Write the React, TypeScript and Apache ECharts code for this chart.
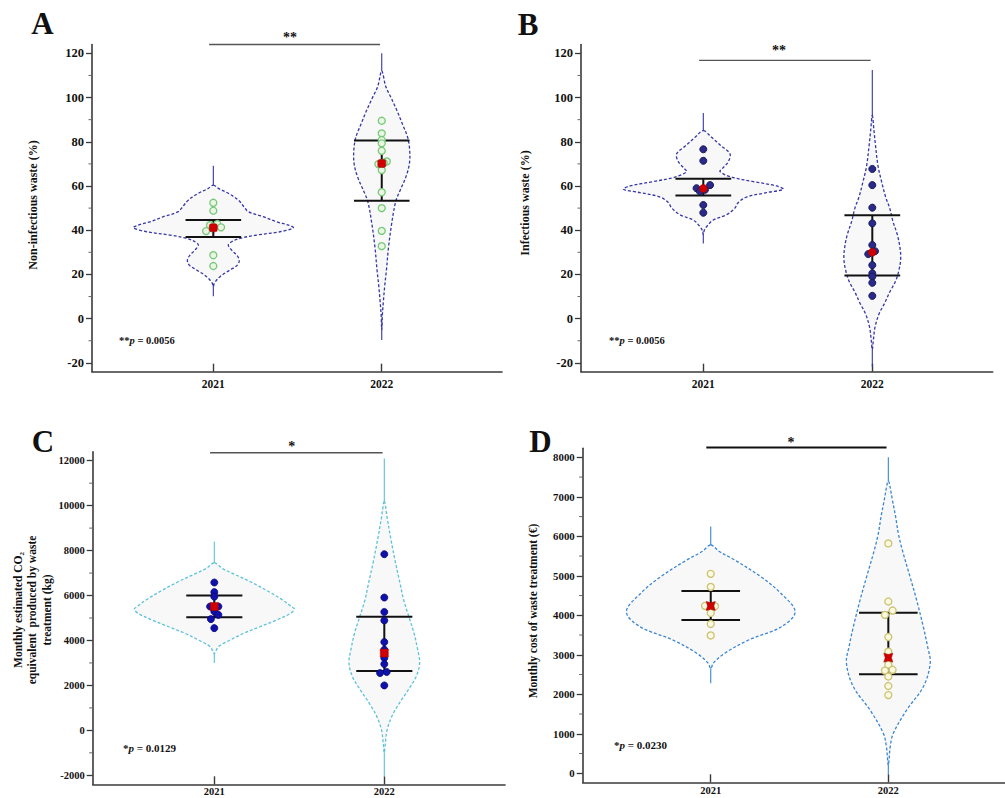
import React, { useEffect, useRef } from 'react';
import * as echarts from 'echarts';

const FONT = "'Liberation Serif', 'Times New Roman', serif";

const yearLabels = ['2021', '2022'];
const yearPos = [1, 2];

// ---------- Panel A: Non-infectious waste (%) ----------
const aYTicks = [-20, 0, 20, 40, 60, 80, 100, 120];
const aYMinor = [-10, 10, 30, 50, 70, 90, 110];
const aPts2021 = [52.4, 48.8, 42.8, 42.3, 41.3, 41.3, 39.6, 28.7, 23.8];
const aJit2021 = [0, 0, 0.024, -0.02, 0.046, 0, -0.043, 0, 0];
const aPts2022 = [89.5, 83.8, 80.8, 79.3, 75.9, 71.1, 70.5, 69.9, 67.2, 57.2, 50.0, 39.7, 32.8];
const aJit2022 = [0, 0, 0, 0, 0, 0.03, 0.012, -0.02, 0, 0, 0, 0, 0];
const aMean = [41.1, 70.2];
const aUpper = [44.6, 80.6];
const aLower = [36.9, 53.3];
const aV2021Y = [60.4, 58.9, 56.7, 53.6, 50.6, 48.4, 46.1, 43.8, 42.3, 41.1, 39.3, 37.8, 36.3, 34.8, 33.3, 31.0, 28.7, 26.5, 24.2, 22.0, 19.0, 16.0, 14.5];
const aV2021W = [0, 0.03, 0.089, 0.149, 0.182, 0.208, 0.297, 0.376, 0.446, 0.475, 0.396, 0.257, 0.158, 0.109, 0.089, 0.109, 0.139, 0.154, 0.143, 0.099, 0.04, 0.006, 0];
const aV2021Tail = [69.2, 10.1];
const aV2022Y = [112, 105, 100, 94, 88, 82, 76, 70, 64, 58, 53, 43, 32, 22, 15, 8, 2, -5];
const aV2022W = [0, 0.024, 0.055, 0.091, 0.123, 0.154, 0.166, 0.164, 0.143, 0.109, 0.083, 0.059, 0.04, 0.028, 0.018, 0.01, 0.004, 0];
const aV2022Tail = [120, -9.7];
const aBracket = 124;

// ---------- Panel B: Infectious waste (%) ----------
const bYTicks = [-20, 0, 20, 40, 60, 80, 100, 120];
const bYMinor = [-10, 10, 30, 50, 70, 90, 110];
const bPts2021 = [76.6, 71.4, 60.4, 59.0, 58.3, 57.5, 51.4, 47.9];
const bJit2021 = [0, 0, 0.04, -0.04, 0.01, -0.02, 0, 0];
const bPts2022 = [67.7, 60.4, 50.2, 43.1, 33.3, 30.5, 29.2, 24.2, 20.5, 19.0, 16.2, 10.3];
const bJit2022 = [0, 0, 0, 0, 0, 0.016, -0.024, 0, 0, 0, 0, 0];
const bMean = [58.9, 30.0];
const bUpper = [63.3, 46.8];
const bLower = [55.7, 19.5];
const bV2021Y = [85, 82, 78, 74.5, 71, 68, 66.5, 64, 62, 60, 58.5, 57, 55, 52.5, 50, 47, 44.6, 42, 40, 38];
const bV2021W = [0, 0.049, 0.108, 0.158, 0.148, 0.114, 0.099, 0.168, 0.296, 0.434, 0.473, 0.375, 0.256, 0.207, 0.187, 0.138, 0.059, 0.024, 0.006, 0];
const bV2021Tail = [93, 34];
const bV2022Y = [92, 85, 79, 69, 62, 55, 50, 44, 38, 32, 27, 22, 17, 12, 7, 2, -4, -10, -14];
const bV2022W = [0, 0.01, 0.018, 0.034, 0.055, 0.079, 0.103, 0.122, 0.148, 0.164, 0.168, 0.158, 0.138, 0.103, 0.073, 0.039, 0.016, 0.006, 0];
const bV2022Tail = [112.5, -21.8];
const bBracket = 116.8;

// ---------- Panel C: CO2 equivalent (kg) ----------
const cYTicks = [-2000, 0, 2000, 4000, 6000, 8000, 10000, 12000];
const cYMinor = [-1000, 1000, 3000, 5000, 7000, 9000, 11000];
const cPts2021 = [6580, 6150, 5950, 5510, 5510, 5290, 5140, 4950, 4550];
const cJit2021 = [0, 0, 0, -0.025, 0.024, 0, 0.024, -0.02, 0];
const cPts2022 = [7840, 5910, 5270, 4890, 3930, 3590, 3220, 2950, 2600, 2550, 2000];
const cJit2022 = [0, 0, 0, 0, 0, 0, 0, 0, 0.014, -0.025, 0];
const cMean = [5510, 3440];
const cUpper = [6000, 5052];
const cLower = [5037, 2637];
const cV2021Y = [7450, 7200, 6950, 6600, 6200, 5800, 5500, 5400, 5200, 4900, 4600, 4300, 4000, 3750, 3500, 3400];
const cV2021W = [0, 0.049, 0.118, 0.216, 0.314, 0.402, 0.455, 0.471, 0.447, 0.363, 0.265, 0.167, 0.088, 0.029, 0.006, 0];
const cV2021Tail = [8400, 3000];
const cV2022Y = [10200, 9500, 8500, 7500, 6500, 5800, 5000, 4300, 3600, 3000, 2400, 1800, 1200, 600, 0, -600, -1000];
const cV2022W = [0, 0.016, 0.039, 0.065, 0.094, 0.114, 0.147, 0.176, 0.196, 0.208, 0.188, 0.141, 0.088, 0.043, 0.016, 0.006, 0];
const cV2022Tail = [12100, -2050];
const cBracket = 12350;

// ---------- Panel D: Monthly cost (€) ----------
const dYTicks = [0, 1000, 2000, 3000, 4000, 5000, 6000, 7000, 8000];
const dYMinor = [500, 1500, 2500, 3500, 4500, 5500, 6500, 7500];
const dPts2021 = [5050, 4720, 4240, 4230, 4060, 3780, 3490];
const dJit2021 = [0, 0, -0.032, 0.024, 0, 0, 0];
const dPts2022 = [5820, 4350, 4120, 4010, 3450, 3080, 2750, 2620, 2600, 2450, 2210, 1980];
const dJit2022 = [0, 0, 0.024, -0.019, 0, 0, 0, 0.024, -0.019, 0, 0, 0];
const dMean = [4236, 2928];
const dUpper = [4616, 4067];
const dLower = [3882, 2506];
const dV2021Y = [5780, 5620, 5400, 4980, 4560, 4090, 3710, 3380, 3040, 2790, 2650];
const dV2021W = [0, 0.047, 0.135, 0.281, 0.394, 0.475, 0.398, 0.216, 0.079, 0.015, 0];
const dV2021Tail = [6250, 2280];
const dV2022Y = [7400, 7340, 6920, 6500, 6080, 5650, 4980, 4390, 3710, 3210, 2790, 2190, 1600, 1010, 680, 340, 200];
const dV2022W = [0, 0.006, 0.023, 0.041, 0.056, 0.079, 0.122, 0.159, 0.197, 0.221, 0.236, 0.197, 0.103, 0.028, 0.011, 0.004, 0];
const dV2022Tail = [8000, -40];
const dBracket = 8250;

const capHalf = 0.165;
const bracketFrom = 0.975;
const bracketTo = 1.99;

type Violin = { ys: number[]; ws: number[]; tail: number[] };

const panels = [
  {
    grid: { left: 92, top: 44.5, width: 410, height: 327.2 },
    xMin: 0.2797, xMax: 2.714, yMin: -24, yMax: 124,
    ticks: aYTicks, minor: aYMinor,
    pts: [aPts2021, aPts2022], jit: [aJit2021, aJit2022],
    mean: aMean, upper: aUpper, lower: aLower,
    violins: [{ ys: aV2021Y, ws: aV2021W, tail: aV2021Tail }, { ys: aV2022Y, ws: aV2022W, tail: aV2022Tail }] as Violin[],
    bracket: aBracket, violinColor: '#3636a8', bracketColor: '#555', bracketWidth: 1.4,
    pt: { color: '#eaf6e4', borderColor: '#78c878', borderWidth: 1.3 }, ptSize: 7,
    meanSymbol: 'roundRect', meanSize: 8,
    yLabelSize: 12.5, xLabelSize: 11.5, xLabelMargin: 6,
  },
  {
    grid: { left: 581, top: 44.5, width: 411.7, height: 327.2 },
    xMin: 0.2763, xMax: 2.7124, yMin: -24, yMax: 124,
    ticks: bYTicks, minor: bYMinor,
    pts: [bPts2021, bPts2022], jit: [bJit2021, bJit2022],
    mean: bMean, upper: bUpper, lower: bLower,
    violins: [{ ys: bV2021Y, ws: bV2021W, tail: bV2021Tail }, { ys: bV2022Y, ws: bV2022W, tail: bV2022Tail }] as Violin[],
    bracket: bBracket, violinColor: '#3636a8', bracketColor: '#555', bracketWidth: 1.4,
    pt: { color: '#2a2a88', borderColor: '#1a1a60', borderWidth: 1 }, ptSize: 7,
    meanSymbol: 'circle', meanSize: 8,
    yLabelSize: 12.5, xLabelSize: 11.5, xLabelMargin: 6,
  },
  {
    grid: { left: 92.7, top: 451.7, width: 412.3, height: 332.6 },
    xMin: 0.2847, xMax: 2.71, yMin: -2400, yMax: 12400,
    ticks: cYTicks, minor: cYMinor,
    pts: [cPts2021, cPts2022], jit: [cJit2021, cJit2022],
    mean: cMean, upper: cUpper, lower: cLower,
    violins: [{ ys: cV2021Y, ws: cV2021W, tail: cV2021Tail }, { ys: cV2022Y, ws: cV2022W, tail: cV2022Tail }] as Violin[],
    bracket: cBracket, violinColor: '#5cc2da', bracketColor: '#555', bracketWidth: 1.4,
    pt: { color: '#1010aa', borderColor: '#08087a', borderWidth: 0.8 }, ptSize: 7,
    meanSymbol: 'rect', meanSize: 8,
    yLabelSize: 10.5, xLabelSize: 10.5, xLabelMargin: 2,
  },
  {
    grid: { left: 582.7, top: 448.3, width: 422.3, height: 334 },
    xMin: 0.279, xMax: 2.657, yMin: -228.6, yMax: 8228.6,
    ticks: dYTicks, minor: dYMinor,
    pts: [dPts2021, dPts2022], jit: [dJit2021, dJit2022],
    mean: dMean, upper: dUpper, lower: dLower,
    violins: [{ ys: dV2021Y, ws: dV2021W, tail: dV2021Tail }, { ys: dV2022Y, ws: dV2022W, tail: dV2022Tail }] as Violin[],
    bracket: dBracket, violinColor: '#3a86d2', bracketColor: '#111', bracketWidth: 2,
    pt: { color: '#fbf9e0', borderColor: '#cbc272', borderWidth: 1.3 }, ptSize: 7,
    meanSymbol: 'path://M0 0L10 3L20 0L17 10L20 20L10 17L0 20L3 10Z', meanSize: 9,
    yLabelSize: 10.8, xLabelSize: 10.5, xLabelMargin: 3,
  },
];

function buildOption() {
  const grids: any[] = [];
  const xAxes: any[] = [];
  const yAxes: any[] = [];
  const series: any[] = [];

  panels.forEach((p, g) => {
    grids.push({ ...p.grid, containLabel: false, outerBoundsMode: 'none' });
    xAxes.push({
      type: 'value', gridIndex: g, min: p.xMin, max: p.xMax, position: 'bottom',
      axisLine: { show: true, onZero: false, lineStyle: { color: '#3a3a3a', width: 1.6 } },
      axisTick: { show: true, inside: true, length: 8, customValues: yearPos, lineStyle: { color: '#3a3a3a', width: 1.4 } },
      axisLabel: {
        show: true, customValues: yearPos, margin: p.xLabelMargin,
        formatter: (v: number) => yearLabels[Math.round(v) - 1] ?? '',
        fontFamily: FONT, fontWeight: 'bold', fontSize: p.xLabelSize, color: '#111',
      },
      splitLine: { show: false },
    });
    yAxes.push({
      type: 'value', gridIndex: g, min: p.yMin, max: p.yMax, position: 'left',
      axisLine: { show: true, onZero: false, lineStyle: { color: '#3a3a3a', width: 1.6 } },
      axisTick: { show: true, length: 6, customValues: p.ticks, lineStyle: { color: '#3a3a3a', width: 1.3 } },
      axisLabel: {
        show: true, customValues: p.ticks, margin: 8, formatter: (v: number) => String(v),
        fontFamily: FONT, fontWeight: 'bold', fontSize: p.yLabelSize, color: '#111',
      },
      splitLine: { show: false },
    });

    const yIdx = g;

    // minor y ticks (drawn through the y scale)
    series.push({
      type: 'custom', xAxisIndex: g, yAxisIndex: yIdx, clip: false, silent: true, z: 5,
      data: p.minor.map((v) => [p.xMin, v]),
      renderItem: (params: any, api: any) => {
        const pt = api.coord([p.xMin, p.minor[params.dataIndex]]);
        return { type: 'line', shape: { x1: pt[0] - 3.5, y1: pt[1], x2: pt[0], y2: pt[1] }, style: { stroke: '#666', lineWidth: 1 } };
      },
    });

    // violins
    series.push({
      type: 'custom', xAxisIndex: g, yAxisIndex: yIdx, clip: false, silent: true, z: 1,
      data: p.violins.map((v, i) => [yearPos[i], v.tail[0]]),
      renderItem: (params: any, api: any) => {
        const i = params.dataIndex;
        const v = p.violins[i];
        const c = yearPos[i];
        const n = v.ys.length;
        const pts: number[][] = [];
        for (let k = 0; k < n; k++) pts.push(api.coord([c + v.ws[k], v.ys[k]]));
        for (let k = n - 2; k >= 1; k--) pts.push(api.coord([c - v.ws[k], v.ys[k]]));
        const t1 = api.coord([c, v.tail[0]]);
        const t2 = api.coord([c, v.tail[1]]);
        return {
          type: 'group',
          children: [
            { type: 'line', shape: { x1: t1[0], y1: t1[1], x2: t2[0], y2: t2[1] }, style: { stroke: p.violinColor, lineWidth: 1.1 } },
            { type: 'polygon', shape: { points: pts, smooth: 0.35 }, style: { fill: '#f8f8f8', stroke: p.violinColor, lineWidth: 1.3, lineDash: [3, 2] } },
          ],
        };
      },
    });

    // error bars
    series.push({
      type: 'custom', xAxisIndex: g, yAxisIndex: yIdx, clip: false, silent: true, z: 2,
      data: yearPos.map((c, i) => [c, p.upper[i], p.lower[i]]),
      renderItem: (params: any, api: any) => {
        const i = params.dataIndex;
        const c = yearPos[i];
        const up = api.coord([c, p.upper[i]]);
        const lo = api.coord([c, p.lower[i]]);
        const ul = api.coord([c - capHalf, p.upper[i]]);
        const ur = api.coord([c + capHalf, p.upper[i]]);
        const ll = api.coord([c - capHalf, p.lower[i]]);
        const lr = api.coord([c + capHalf, p.lower[i]]);
        const st = { stroke: '#111', lineWidth: 2 };
        return {
          type: 'group',
          children: [
            { type: 'line', shape: { x1: up[0], y1: up[1], x2: lo[0], y2: lo[1] }, style: st },
            { type: 'line', shape: { x1: ul[0], y1: ul[1], x2: ur[0], y2: ur[1] }, style: st },
            { type: 'line', shape: { x1: ll[0], y1: ll[1], x2: lr[0], y2: lr[1] }, style: st },
          ],
        };
      },
    });

    // points
    p.pts.forEach((arr, i) => {
      series.push({
        type: 'scatter', xAxisIndex: g, yAxisIndex: yIdx, z: 3, silent: true,
        symbol: 'circle', symbolSize: p.ptSize,
        itemStyle: { ...p.pt, opacity: 1 },
        data: arr.map((v, k) => [yearPos[i] + p.jit[i][k], v]),
      });
    });

    // means
    series.push({
      type: 'scatter', xAxisIndex: g, yAxisIndex: yIdx, z: 4, silent: true,
      symbol: p.meanSymbol, symbolSize: p.meanSize,
      itemStyle: { color: '#d10000', borderColor: '#a00000', borderWidth: 0.5, opacity: 1 },
      data: yearPos.map((c, i) => [c, p.mean[i]]),
    });

    // significance bracket
    series.push({
      type: 'custom', xAxisIndex: g, yAxisIndex: yIdx, clip: false, silent: true, z: 2,
      data: [[bracketFrom, p.bracket, bracketTo]],
      renderItem: (params: any, api: any) => {
        const a = api.coord([bracketFrom, p.bracket]);
        const b = api.coord([bracketTo, p.bracket]);
        return { type: 'line', shape: { x1: a[0], y1: a[1], x2: b[0], y2: b[1] }, style: { stroke: p.bracketColor, lineWidth: p.bracketWidth } };
      },
    });
  });

  const txt = (x: number, y: number, text: string, size: number, extra: any = {}) => ({
    type: 'text', x, y, silent: true, ...extra,
    style: {
      text, fontFamily: FONT, fontWeight: 'bold', fontSize: size, fill: '#111',
      align: 'center', verticalAlign: 'middle', textAlign: 'center', textVerticalAlign: 'middle',
      ...(extra.style || {}),
    },
  });
  const pText = (x: number, y: number, stars: string, val: string, size: number) => ({
    type: 'text', x, y, silent: true,
    style: {
      text: `{s|${stars}}{i|p}{s| = ${val}}`,
      align: 'left', verticalAlign: 'middle', textAlign: 'left', textVerticalAlign: 'middle',
      rich: {
        s: { fontFamily: FONT, fontWeight: 'bold', fontSize: size, fill: '#111' },
        i: { fontFamily: FONT, fontWeight: 'bold', fontStyle: 'italic', fontSize: size, fill: '#111' },
      },
    },
  });
  const rot = Math.PI / 2;

  const graphic: any[] = [
    txt(42.5, 23, 'A', 31),
    txt(528, 24, 'B', 31),
    txt(43, 441, 'C', 31),
    txt(540.5, 441, 'D', 31),
    txt(290, 37, '**', 14),
    txt(779, 50, '**', 14),
    txt(291.7, 446, '*', 14),
    txt(791, 442, '*', 14),
    pText(119, 340.7, '**', '0.0056', 10.5),
    pText(609, 340.7, '**', '0.0056', 10.5),
    pText(123, 747.7, '*', '0.0129', 11),
    pText(614, 745, '*', '0.0230', 11),
    txt(33, 205, 'Non-infectious waste (%)', 12, { rotation: rot }),
    txt(525, 203, 'Infectious waste (%)', 12, { rotation: rot }),
    txt(32, 610, 'Monthly estimated CO\u2082\nequivalent  produced by waste\ntreatment (kg)', 11.5, { rotation: rot, style: { lineHeight: 14.5 } }),
    txt(533, 611, 'Monthly cost of waste treatment (\u20ac)', 11.5, { rotation: rot }),
  ];

  return {
    animation: false,
    backgroundColor: '#ffffff',
    grid: grids,
    xAxis: xAxes,
    yAxis: yAxes,
    series,
    graphic,
  };
}

export default function App() {
  const ref = useRef<HTMLDivElement>(null);
  useEffect(() => {
    if (!ref.current) return;
    const chart = echarts.init(ref.current, null, { renderer: 'svg' });
    chart.setOption(buildOption() as any);
    return () => chart.dispose();
  }, []);
  return <div ref={ref} style={{ position: 'fixed', left: 0, top: 0, width: 1005, height: 798, background: '#fff' }} />;
}
